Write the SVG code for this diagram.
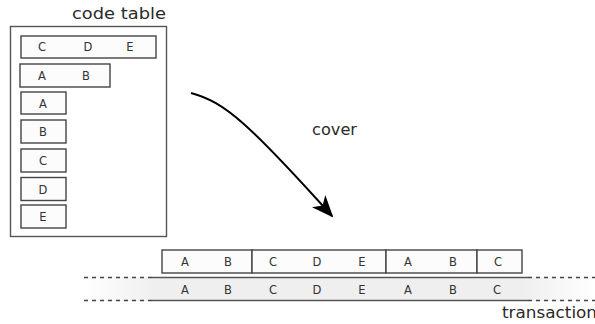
<svg xmlns="http://www.w3.org/2000/svg" width="595" height="324" viewBox="0 0 595 324">
  <style>
    text { font-family: "DejaVu Sans", "Liberation Sans", sans-serif; fill: #2a2a2a; }
    .lbl { font-size: 15px; }
    .cell { font-size: 11.5px; text-anchor: middle; fill: #333; }
    .item { fill: #fcfcfc; stroke: #444; stroke-width: 1.4; }
    .frame { fill: #fff; stroke: #555; stroke-width: 1.4; }
    .solid { stroke: #555; stroke-width: 1.4; fill: none; }
    .dash { stroke: #444; stroke-width: 1.3; stroke-dasharray: 4 4; fill: none; }
  </style>
  <defs>
    <linearGradient id="bandFill" x1="84" y1="0" x2="595" y2="0" gradientUnits="userSpaceOnUse">
      <stop offset="0" stop-color="#ffffff"/>
      <stop offset="0.14" stop-color="#efefef"/>
      <stop offset="0.86" stop-color="#efefef"/>
      <stop offset="1" stop-color="#ffffff"/>
    </linearGradient>
    <marker id="head" viewBox="0 0 22 18" refX="20" refY="9" markerWidth="22" markerHeight="18" markerUnits="userSpaceOnUse" orient="auto">
      <path d="M0,0 L22,9 L0,18 L6,9 Z" fill="#000"/>
    </marker>
  </defs>

  <!-- code table -->
  <g id="code-table">
    <text class="lbl" x="72" y="19" textLength="94" lengthAdjust="spacingAndGlyphs">code table</text>
    <rect class="frame" x="10.5" y="26.5" width="156" height="210"/>
  </g>
  <g id="code-CDE">
    <rect class="item" x="21" y="36" width="135" height="22"/>
    <text class="cell" x="42" y="51">C</text>
    <text class="cell" x="88" y="51">D</text>
    <text class="cell" x="130" y="51">E</text>
  </g>
  <g id="code-AB">
    <rect class="item" x="20" y="64" width="90" height="23"/>
    <text class="cell" x="42" y="80">A</text>
    <text class="cell" x="86" y="80">B</text>
  </g>
  <g id="code-A">
    <rect class="item" x="21" y="92" width="45" height="22"/>
    <text class="cell" x="43" y="107.5">A</text>
  </g>
  <g id="code-B">
    <rect class="item" x="21" y="120" width="45" height="23"/>
    <text class="cell" x="43" y="136">B</text>
  </g>
  <g id="code-C">
    <rect class="item" x="21" y="149" width="45" height="23"/>
    <text class="cell" x="43" y="165">C</text>
  </g>
  <g id="code-D">
    <rect class="item" x="21" y="177.5" width="45" height="23"/>
    <text class="cell" x="43" y="193.5">D</text>
  </g>
  <g id="code-E">
    <rect class="item" x="21" y="205" width="45" height="23"/>
    <text class="cell" x="43" y="221">E</text>
  </g>

  <!-- cover arrow -->
  <g id="connectors">
    <path d="M191,93 C225,102 250,125 332,216" fill="none" stroke="#000" stroke-width="2" marker-end="url(#head)"/>
  </g>
  <text class="lbl" x="312" y="135" textLength="45" lengthAdjust="spacingAndGlyphs">cover</text>

  <!-- transaction band -->
  <g id="transaction">
    <rect x="84" y="277" width="511" height="24" fill="url(#bandFill)"/>
    <line class="dash" x1="84" y1="277.5" x2="152" y2="277.5"/>
    <line class="dash" x1="84" y1="300.5" x2="152" y2="300.5"/>
    <line class="solid" x1="152" y1="277.5" x2="528" y2="277.5"/>
    <line class="solid" x1="152" y1="300.5" x2="528" y2="300.5"/>
    <line class="dash" x1="528" y1="277.5" x2="595" y2="277.5"/>
    <line class="dash" x1="528" y1="300.5" x2="595" y2="300.5"/>
    <text class="cell" x="185" y="293.5">A</text>
    <text class="cell" x="228" y="293.5">B</text>
    <text class="cell" x="273" y="293.5">C</text>
    <text class="cell" x="317" y="293.5">D</text>
    <text class="cell" x="362" y="293.5">E</text>
    <text class="cell" x="408" y="293.5">A</text>
    <text class="cell" x="453" y="293.5">B</text>
    <text class="cell" x="497" y="293.5">C</text>
    <text class="lbl" x="502" y="318" textLength="95" lengthAdjust="spacingAndGlyphs">transaction</text>
  </g>

  <!-- cover of the transaction -->
  <g id="cover-AB">
    <rect class="item" x="162" y="250" width="90" height="23"/>
    <text class="cell" x="185" y="266">A</text>
    <text class="cell" x="228" y="266">B</text>
  </g>
  <g id="cover-CDE">
    <rect class="item" x="252" y="250" width="134" height="23"/>
    <text class="cell" x="273" y="266">C</text>
    <text class="cell" x="317" y="266">D</text>
    <text class="cell" x="362" y="266">E</text>
  </g>
  <g id="cover-AB-2">
    <rect class="item" x="386" y="250" width="91" height="23"/>
    <text class="cell" x="408" y="266">A</text>
    <text class="cell" x="453" y="266">B</text>
  </g>
  <g id="cover-C">
    <rect class="item" x="477" y="250" width="45" height="23"/>
    <text class="cell" x="498" y="266">C</text>
  </g>
</svg>
